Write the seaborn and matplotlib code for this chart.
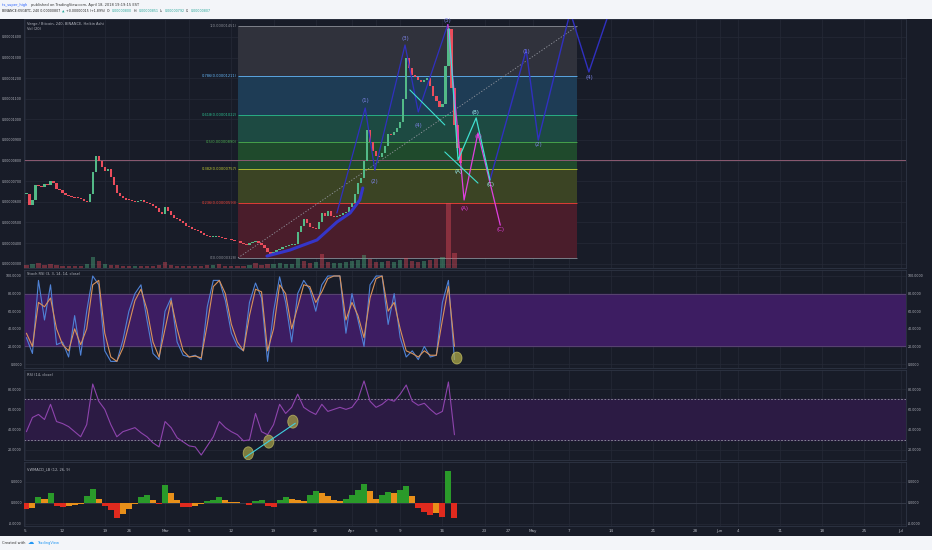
import numpy as np
import pandas as pd
import matplotlib
matplotlib.use("Agg")
import matplotlib.pyplot as plt
from matplotlib.patches import Ellipse, Rectangle
import seaborn as sns

# Precio de cierre cada 12 h, en satoshis (1400 -> 0.00001400)
price_start, price_step = -23.0, 0.5
price_close = [640, 585, 610, 680, 675, 670, 685, 680, 700, 690,
               660, 655, 645, 635, 628, 625, 620, 618, 612, 603,
               598, 640, 745, 820, 800, 770, 748, 760, 720, 680,
               645, 630, 620, 610, 608, 605, 600, 605, 608, 598,
               592, 588, 578, 568, 552, 540, 575, 555, 535, 522,
               515, 505, 495, 485, 478, 470, 465, 460, 450, 440,
               432, 428, 430, 435, 428, 424, 420, 418, 415, 412,
               408, 402, 395, 390, 400, 405, 410, 400, 392, 378,
               355, 342, 355, 365, 372, 380, 388, 390, 392, 395,
               455, 485, 515, 495, 480, 475, 470, 500, 545, 530,
               555, 530, 525, 530, 538, 545, 553, 575, 595, 640,
               690, 715, 800, 950, 890, 845, 820, 818, 835, 870,
               930, 925, 940, 958, 985, 1100, 1300, 1250, 1215, 1205,
               1190, 1180, 1190, 1200, 1160, 1115, 1090, 1060, 1075, 1260,
               1440, 1150, 975, 860, 790]

# Volumen e indicadores, un valor por dia
ind_start = -23
volume = [6, 8, 10, 6, 8, 6, 5, 4, 4, 5,
          8, 22, 14, 8, 6, 6, 5, 4, 4, 5,
          4, 5, 6, 12, 6, 5, 4, 4, 4, 5,
          6, 6, 8, 5, 4, 4, 5, 6, 10, 6,
          8, 8, 10, 8, 8, 20, 14, 10, 12, 28,
          12, 10, 10, 12, 14, 16, 26, 18, 12, 12,
          14, 12, 16, 20, 14, 12, 14, 16, 18, 22,
          130, 30]
stoch_k = [30, 12, 95, 50, 90, 22, 25, 8, 55, 10,
           60, 100, 90, 15, 3, 3, 27, 60, 80, 90,
           50, 12, 5, 60, 75, 25, 10, 8, 10, 5,
           65, 95, 95, 72, 35, 20, 15, 70, 92, 75,
           3, 60, 99, 70, 25, 80, 95, 85, 60, 90,
           100, 100, 100, 35, 80, 50, 20, 90, 100, 100,
           45, 80, 30, 8, 15, 5, 20, 8, 10, 70,
           95, 5]
stoch_d = [35, 20, 70, 65, 75, 40, 22, 15, 40, 22,
           40, 90, 95, 35, 8, 3, 18, 45, 72, 85,
           62, 25, 8, 40, 72, 40, 15, 8, 9, 7,
           45, 88, 95, 80, 45, 25, 15, 55, 85, 82,
           15, 40, 90, 80, 40, 65, 90, 88, 70, 82,
           97, 100, 100, 50, 70, 55, 30, 75, 97, 100,
           60, 70, 40, 15, 12, 8, 15, 10, 10, 50,
           88, 20]
rsi = [38, 52, 55, 50, 65, 48, 46, 43, 38, 33,
       45, 85, 68, 60, 45, 33, 38, 40, 42, 37,
       33, 27, 23, 48, 42, 32, 28, 24, 23, 15,
       24, 33, 48, 42, 38, 35, 29, 30, 56, 38,
       35, 45, 65, 56, 62, 75, 62, 58, 55, 65,
       58, 60, 62, 60, 62, 70, 88, 68, 62, 65,
       70, 68, 75, 84, 68, 64, 66, 60, 55, 58,
       87, 35]
vwmacd = [-0.32, -0.25, 0.25, 0.2, 0.45, -0.15, -0.2, -0.18, -0.12, -0.08,
          0.3, 0.65, 0.2, -0.15, -0.35, -0.72, -0.55, -0.3, -0.05, 0.25,
          0.35, 0.15, -0.05, 0.85, 0.45, 0.12, -0.2, -0.22, -0.15, -0.08,
          0.1, 0.15, 0.28, 0.12, 0.04, 0.02, -0.02, -0.12, 0.1, 0.15,
          -0.15, -0.2, 0.15, 0.28, 0.2, 0.15, 0.1, 0.35, 0.55, 0.45,
          0.3, 0.15, 0.1, 0.2, 0.35, 0.6, 0.9, 0.55, 0.2, 0.35,
          0.5, 0.45, 0.6, 0.8, 0.3, -0.25, -0.45, -0.6, -0.5, -0.7,
          1.5, -0.75]

# Retroceso de Fibonacci
fib_low, fib_high = 328, 1451
fib_ratios = [0, 0.236, 0.382, 0.5, 0.618, 0.786, 1]
fib_span = (12.1, 68.3)
level_line = 805

# Dibujos de ondas de Elliott (t, precio)
trend_t = [16.9, 20.7, 25.2, 28.5, 30.7, 32.3, 32.8]
trend_p = [337, 366, 415, 502, 546, 609, 667]
impulse_t = [28.5, 33.2, 34.8, 39.8, 42.0, 46.9]
impulse_p = [546, 1055, 754, 1361, 1036, 1460]
abc_pink_t = [46.9, 49.6, 51.9, 55.6]
abc_pink_p = [1460, 609, 934, 487]
abc_cyan_t = [47.1, 48.6, 51.6, 53.9]
abc_cyan_p = [1440, 803, 1007, 706]
wedge_t = [[40.6, 46.4], [46.4, 51.9]]
wedge_p = [[1143, 973], [842, 691]]
project_t = [53.9, 59.9, 61.9, 67.2, 70.3, 73.8]
project_p = [706, 1337, 900, 1521, 1230, 1531]
wave_labels = [
    (33.2, 1094, "(1)", "#7d84e8"), (34.8, 701, "(2)", "#7d84e8"),
    (39.8, 1390, "(3)", "#7d84e8"), (42.0, 968, "(4)", "#7d84e8"),
    (46.9, 1478, "(5)", "#7d84e8"), (59.9, 1327, "(1)", "#7d84e8"),
    (61.9, 876, "(2)", "#7d84e8"), (70.3, 1201, "(4)", "#7d84e8"),
    (48.6, 745, "(A)", "#9ef0f0"), (51.4, 1031, "(B)", "#9ef0f0"),
    (53.9, 682, "(C)", "#9ef0f0"),
    (49.6, 570, "(A)", "#e040e0"), (51.9, 919, "(B)", "#e040e0"),
    (55.6, 468, "(C)", "#e040e0"),
]

# Marcas en el RSI y en el Stoch RSI
rsi_marks_t = [13.8, 17.2, 21.2]
rsi_marks_v = [16.7, 28.2, 47.9]
rsi_trend_t = [13.3, 21.6]
rsi_trend_v = [12.8, 46.3]
stoch_mark = (48.4, 6.8)

tick_t = [-23.2, -17, -10, -6, 0, 4, 11, 18, 25, 31, 35, 39, 46, 53, 57, 61,
          67, 74, 81, 88, 92, 95, 102, 109, 116, 122]
tick_lbl = ["5", "12", "19", "26", "Mar", "5", "12", "19", "26", "Apr", "5", "9",
            "16", "23", "27", "May", "7", "14", "21", "28", "Jun", "4", "11",
            "18", "25", "Jul"]

W, H = 932, 550
BG = "#181c28"
GRID = "#252a37"
TXT = "#b2b5be"
UP, DOWN = "#53b987", "#eb4d5c"


def box(x0, y0, x1, y1):
    """Rectangulo en pixeles de la imagen -> fracciones de la figura."""
    return [x0 / W, 1 - y1 / H, (x1 - x0) / W, (y1 - y0) / H]


def px(x, y):
    return x / W, 1 - y / H


def style_pane(ax, yticks, ylabels):
    ax.set_facecolor(BG)
    ax.set_xlim(-23.4, 122.9)
    ax.set_xticks(tick_t)
    ax.set_yticks(yticks)
    ax.set_yticklabels(ylabels)
    ax.grid(True, color=GRID, linewidth=0.5)
    ax.set_axisbelow(True)
    ax.tick_params(axis="y", length=0, labelleft=True, labelright=True,
                   labelsize=2.3, labelcolor=TXT, pad=1.5)
    ax.tick_params(axis="x", length=0, labelbottom=False)
    ax.set_xlabel("")
    ax.set_ylabel("")
    for s in ax.spines.values():
        s.set_color("#2e3444")
        s.set_linewidth(0.6)


def price_pane(ax):
    close = np.array(price_close, dtype=float)
    t = price_start + price_step * np.arange(len(close))
    opens = np.concatenate([[close[0]], close[:-1]])
    colors = [UP if c >= o else DOWN for o, c in zip(opens, close)]

    # Zonas de Fibonacci
    fib_levels = [fib_low + r * (fib_high - fib_low) for r in fib_ratios]
    zone_colors = ["#4a1d2b", "#3b4424", "#1f4a2c", "#1d4a42", "#1e3c55", "#30323c"]
    line_colors = ["#8a8d96", "#f44336", "#c0ca33", "#4caf50", "#2bbd8e", "#64b5f6", "#8a8d96"]
    for lo, hi, zc in zip(fib_levels[:-1], fib_levels[1:], zone_colors):
        ax.fill_between(fib_span, lo, hi, color=zc, linewidth=0, zorder=1)
    for r, lv, lc in zip(fib_ratios, fib_levels, line_colors):
        ax.hlines(lv, *fib_span, color=lc, linewidth=0.6, zorder=2)
        ax.text(fib_span[0] - 0.2, lv, f"{r:g}({lv / 1e8:.8f})", color=lc,
                fontsize=2.6, ha="right", va="center", zorder=6)
    ax.plot(fib_span, [fib_low, fib_high], color="#9598a1", linestyle=(0, (1.5, 2)),
            linewidth=0.6, zorder=2)
    ax.axhline(level_line, color="#8c5a72", linewidth=0.7, zorder=2)

    ax.bar(t, np.maximum(np.abs(close - opens), 4), bottom=np.minimum(opens, close),
           width=0.38, color=colors, linewidth=0, zorder=3)

    # Ondas
    ax.plot(trend_t, trend_p, color="#3535c8", linewidth=2.2, zorder=4, solid_capstyle="round")
    ax.plot(impulse_t, impulse_p, color="#3030c0", linewidth=0.9, zorder=4)
    ax.plot(project_t, project_p, color="#3030c0", linewidth=1.0, zorder=4)
    ax.plot(abc_pink_t, abc_pink_p, color="#e040e0", linewidth=0.9, zorder=4)
    ax.plot(abc_cyan_t, abc_cyan_p, color="#40e0d0", linewidth=0.9, zorder=4)
    for wt, wp in zip(wedge_t, wedge_p):
        ax.plot(wt, wp, color="#40e0d0", linewidth=0.8, zorder=4)
    for lt, lp, txt, col in wave_labels:
        ax.text(lt, lp, txt, color=col, fontsize=4, ha="center", va="center", zorder=7)

    ax.set_ylim(279, 1487)
    ticks = list(range(300, 1401, 100))
    style_pane(ax, ticks, [f"{v / 1e8:.8f}" for v in ticks])

    # Volumen en eje gemelo
    axv = ax.twinx()
    tv = ind_start + np.arange(len(volume))
    n = len(close)
    vcol = [UP if close[min(2 * k + 1, n - 1)] >= close[2 * k] else DOWN
            for k in range(len(volume))]
    axv.bar(tv, volume, width=0.7, color=vcol, alpha=0.4, linewidth=0, zorder=5)
    axv.set_ylim(0, 500)
    axv.set_yticks([])
    axv.grid(False)
    for s in axv.spines.values():
        s.set_visible(False)


def stoch_pane(ax, df):
    ax.axhspan(20, 80, color="#3d1d62", zorder=1)
    ax.axhline(80, color="#5b4a72", linewidth=0.6, zorder=1)
    ax.axhline(20, color="#5b4a72", linewidth=0.6, zorder=1)
    sns.lineplot(data=df, x="t", y="k", ax=ax, color="#4f82d6", linewidth=0.8, zorder=3)
    sns.lineplot(data=df, x="t", y="d", ax=ax, color="#d9925a", linewidth=0.8, zorder=3)
    ax.add_patch(Ellipse(stoch_mark, 1.7, 13.5, facecolor="#b5b04a", alpha=0.7,
                         edgecolor="#d6d16a", linewidth=0.6, zorder=5))
    ax.set_ylim(-4.5, 106.8)
    ticks = [0, 20, 40, 60, 80, 100]
    style_pane(ax, ticks, [f"{v:.4f}" for v in ticks])


def rsi_pane(ax, df):
    ax.axhspan(30, 70, color="#2c1b44", zorder=1)
    for lv in (70, 30):
        ax.axhline(lv, color="#9598a1", linewidth=0.6, linestyle=(0, (2, 2)), zorder=2)
    sns.lineplot(data=df, x="t", y="rsi", ax=ax, color="#8e44ad", linewidth=0.8, zorder=3)
    ax.plot(rsi_trend_t, rsi_trend_v, color="#40d0e0", linewidth=0.8, zorder=5)
    for mt, mv in zip(rsi_marks_t, rsi_marks_v):
        ax.add_patch(Ellipse((mt, mv), 1.7, 12.8, facecolor="#b5b04a", alpha=0.65,
                             edgecolor="#d6d16a", linewidth=0.6, zorder=4))
    ax.set_ylim(10.1, 98.8)
    ticks = [20, 40, 60, 80]
    style_pane(ax, ticks, [f"{v:.4f}" for v in ticks])


def macd_pane(ax, df):
    vals = df["macd"].to_numpy()
    prev = np.concatenate([[0.0], vals[:-1]])
    cols = []
    for v, p in zip(vals, prev):
        if v >= 0:
            cols.append("#2a9a2a" if v > p else "#e8901a")
        else:
            cols.append("#e02a1e" if v < p else "#e8901a")
    ax.bar(df["t"], vals, width=1.0, color=cols, linewidth=0, zorder=3)
    ax.axhline(0, color="#3a3f4e", linewidth=0.5, zorder=2)
    ax.set_ylim(-1.11, 1.94)
    style_pane(ax, [-1, 0, 1], ["-0.0000", "0.0000", "0.0000"])
    ax.set_xticklabels(tick_lbl)
    ax.tick_params(axis="x", labelbottom=True, labelsize=3, labelcolor=TXT, pad=2)


sns.set_theme(style="dark")
plt.rcParams["font.family"] = ["DejaVu Sans"]

fig = plt.figure(figsize=(W / 100, H / 100), dpi=100)
fig.patch.set_facecolor("#f3f5f9")
fig.add_artist(Rectangle(px(0, 536), 1, (536 - 19) / H, transform=fig.transFigure,
                         facecolor=BG, edgecolor="none", zorder=0))

ind = pd.DataFrame({"t": ind_start + np.arange(len(rsi)), "k": stoch_k, "d": stoch_d,
                    "rsi": rsi, "macd": vwmacd})

ax_p = fig.add_axes(box(24, 19, 906, 268))
ax_s = fig.add_axes(box(24, 270, 906, 368))
ax_r = fig.add_axes(box(24, 370, 906, 460))
ax_m = fig.add_axes(box(24, 462, 906, 526))

price_pane(ax_p)
stoch_pane(ax_s, ind)
rsi_pane(ax_r, ind)
macd_pane(ax_m, ind)

# Leyendas de cada panel
legend_kw = dict(fontsize=2.6, color=TXT, va="center")
fig.text(*px(27, 23.5), "Verge / Bitcoin, 240, BINANCE, Heikin Ashi", **legend_kw)
fig.text(*px(27, 29.5), "Vol (20)", **legend_kw)
fig.text(*px(27, 274.5), "Stoch RSI (3, 3, 14, 14, close)", **legend_kw)
fig.text(*px(27, 375), "RSI (14, close)", **legend_kw)
fig.text(*px(27, 469), "VWMACD_LB (12, 26, 9)", **legend_kw)

# Cabecera y pie
head_kw = dict(fontsize=2.6, va="center")
fig.text(*px(2, 5), "its_super_high", color="#2962ff", **head_kw)
fig.text(*px(31, 5), "published on TradingView.com, April 18, 2018 19:19:15 EST",
         color="#333333", **head_kw)

# Segunda linea de la cabecera: trozos colocados uno tras otro
header_parts = [
    ("BINANCE:XVGBTC, 240 0.00000807", "#222222"),
    ("\u25b2", "#26a69a"),
    ("+0.00000015 (+1.89%)", "#222222"),
    ("O:", "#222222"), ("0.00000800", "#26a69a"),
    ("H:", "#222222"), ("0.00000851", "#26a69a"),
    ("L:", "#222222"), ("0.00000792", "#26a69a"),
    ("C:", "#222222"), ("0.00000807", "#26a69a"),
]
renderer = fig.canvas.get_renderer()
x_cursor = 2
for txt, col in header_parts:
    piece = fig.text(*px(x_cursor, 11.5), txt, color=col, fontsize=2.3, va="center")
    bb = piece.get_window_extent(renderer)
    x_cursor = bb.x1 + 1.5

fig.text(*px(2, 543), "Created with", color="#333333", **head_kw)
fig.text(*px(28, 543), "\u2601", color="#2196f3", fontsize=4.5, va="center")
fig.text(*px(37, 543), "TradingView", color="#2196f3", **head_kw)

fig.savefig("out.png", dpi=100, facecolor=fig.get_facecolor())
plt.close(fig)
